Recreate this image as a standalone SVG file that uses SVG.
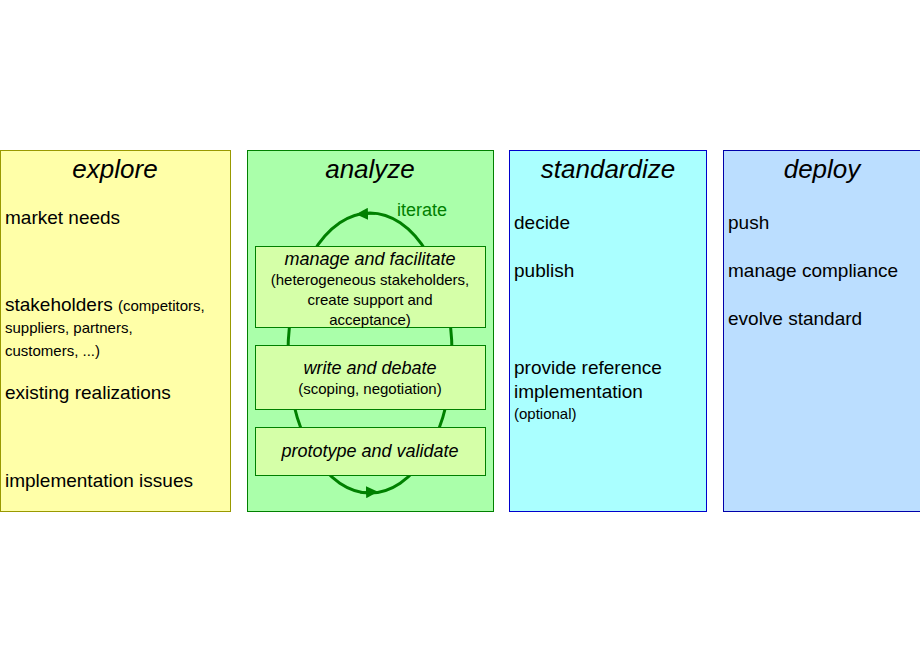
<svg xmlns="http://www.w3.org/2000/svg" width="920" height="660" viewBox="0 0 920 660">
<style>
text{font-family:"Liberation Sans",Arial,sans-serif;fill:#000}
.t{font-size:26px;font-style:italic;text-anchor:middle}
.b{font-size:19px}
.s{font-size:15px}
.it{font-size:18px;font-style:italic;text-anchor:middle}
.c{font-size:15px;text-anchor:middle}
.box{fill:#d5ffa8;stroke:#008000;stroke-width:1}
</style>
<defs>
<marker id="ah" viewBox="0 0 10 10" refX="5" refY="5" markerWidth="6" markerHeight="6" orient="auto"><path d="M0,0L10,5L0,10z" fill="#008000"/></marker>
</defs>
<rect width="920" height="660" fill="#fff"/>
<g id="explore">
<rect x="0.5" y="150.5" width="230" height="361" fill="#ffffa8" stroke="#999900"/>
<text class="t" x="115" y="178">explore</text>
<text class="b" x="5" y="224">market needs</text>
<text class="b" x="5" y="311">stakeholders <tspan class="s">(competitors,</tspan></text>
<text class="s" x="5" y="333">suppliers, partners,</text>
<text class="s" x="5" y="356">customers, ...)</text>
<text class="b" x="5" y="399">existing realizations</text>
<text class="b" x="5" y="487">implementation issues</text>
</g>
<g id="analyze">
<rect x="247.5" y="150.5" width="246" height="361" fill="#aaffaa" stroke="#008000"/>
<text class="t" x="370" y="178">analyze</text>
<text x="422" y="216" style="font-size:18px;fill:#008000;text-anchor:middle">iterate</text>
</g>
<g id="connectors" fill="none" stroke="#008000" stroke-width="3">
<ellipse cx="370" cy="353" rx="82" ry="140"/>
<path d="M375,213.5 L362,214" marker-end="url(#ah)" stroke-width="2"/>
<path d="M360,492.5 L372,492" marker-end="url(#ah)" stroke-width="2"/>
</g>
<g id="manage">
<rect class="box" x="255.5" y="246.5" width="230" height="81"/>
<text class="it" x="370" y="265">manage and facilitate</text>
<text class="c" x="370" y="285">(heterogeneous stakeholders,</text>
<text class="c" x="370" y="305">create support and</text>
<text class="c" x="370" y="325">acceptance)</text>
</g>
<g id="write">
<rect class="box" x="255.5" y="345.5" width="230" height="64"/>
<text class="it" x="370" y="374">write and debate</text>
<text class="c" x="370" y="394">(scoping, negotiation)</text>
</g>
<g id="prototype">
<rect class="box" x="255.5" y="427.5" width="230" height="48"/>
<text class="it" x="370" y="457">prototype and validate</text>
</g>
<g id="standardize">
<rect x="509.5" y="150.5" width="197" height="361" fill="#aaffff" stroke="#0000cc"/>
<text class="t" x="608" y="178">standardize</text>
<text class="b" x="514" y="229">decide</text>
<text class="b" x="514" y="277">publish</text>
<text class="b" x="514" y="374">provide reference</text>
<text class="b" x="514" y="398">implementation</text>
<text class="s" x="514" y="419">(optional)</text>
</g>
<g id="deploy">
<rect x="723.5" y="150.5" width="200" height="361" fill="#bbdeff" stroke="#0000aa"/>
<text class="t" x="822" y="178">deploy</text>
<text class="b" x="728" y="229">push</text>
<text class="b" x="728" y="277">manage compliance</text>
<text class="b" x="728" y="325">evolve standard</text>
</g>
</svg>
